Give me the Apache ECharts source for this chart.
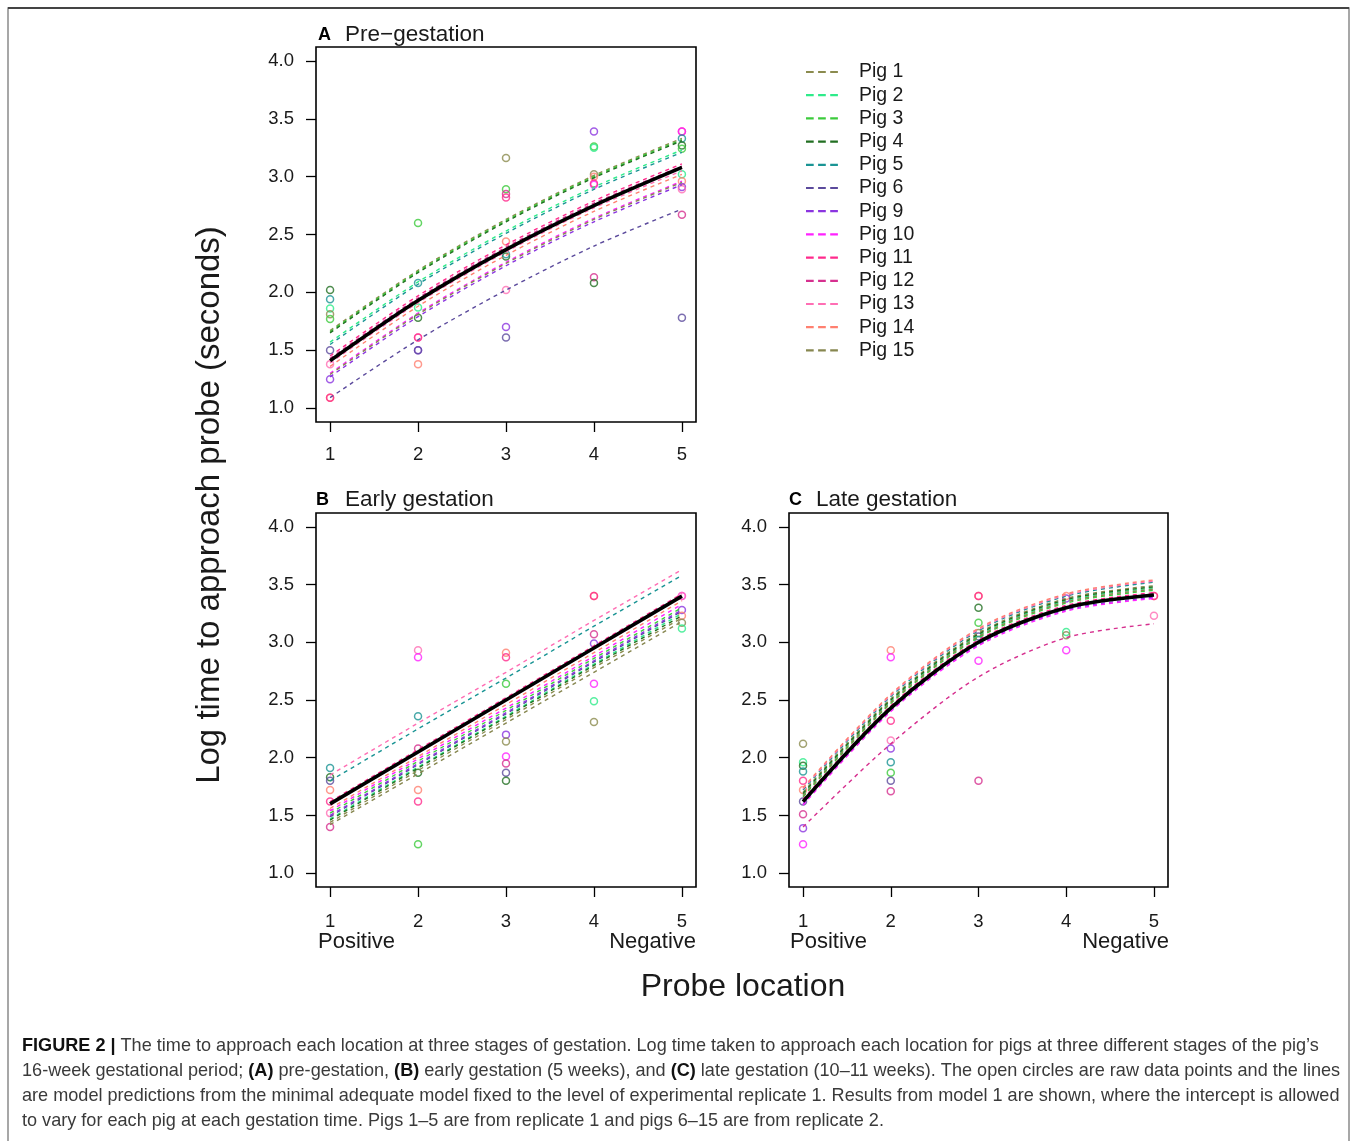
<!DOCTYPE html>
<html>
<head>
<meta charset="utf-8">
<script src="https://cdn.jsdelivr.net/npm/echarts@6/dist/echarts.min.js"></script>
<style>
  html, body { margin: 0; padding: 0; background: #fff; }
  #main { width: 1357px; height: 1141px; }
</style>
</head>
<body>
<div id="main"></div>
<script>
const FONT = '"Liberation Sans", Arial, sans-serif';

const pigNames = ['Pig 1', 'Pig 2', 'Pig 3', 'Pig 4', 'Pig 5', 'Pig 6', 'Pig 9',
    'Pig 10', 'Pig 11', 'Pig 12', 'Pig 13', 'Pig 14', 'Pig 15'];
const pigColors = ['#8b8b4e', '#2eeb8a', '#3ccb3c', '#226f22', '#1a9494', '#5b4a9c', '#8b35e0',
    '#ff22ff', '#ff2a8c', '#d6308f', '#ff6eb4', '#ff8070', '#878750'];

const locations = [1, 2, 3, 4, 5];
const yTicks = [1.0, 1.5, 2.0, 2.5, 3.0, 3.5, 4.0];

// model predictions per pig (same order as pigNames), at locations 1..5
const fitA = [
    [1.67, 2.19, 2.63, 3.01, 3.33],
    [1.57, 2.09, 2.53, 2.91, 3.23],
    [1.66, 2.18, 2.62, 3.00, 3.32],
    [1.65, 2.17, 2.61, 2.99, 3.31],
    [1.55, 2.07, 2.51, 2.89, 3.21],
    [1.09, 1.59, 2.02, 2.40, 2.72],
    [1.27, 1.79, 2.23, 2.61, 2.93],
    [1.30, 1.82, 2.26, 2.64, 2.96],
    [1.45, 1.97, 2.41, 2.79, 3.11],
    [1.43, 1.95, 2.39, 2.77, 3.09],
    [1.39, 1.91, 2.35, 2.73, 3.05],
    [1.36, 1.88, 2.32, 2.70, 3.02],
    [1.29, 1.81, 2.25, 2.63, 2.95]
];
const meanA = [1.41, 1.93, 2.37, 2.75, 3.08];

const fitB = [
    [1.44, 1.89, 2.33, 2.78, 3.21],
    [1.47, 1.92, 2.36, 2.81, 3.25],
    [1.52, 1.97, 2.41, 2.86, 3.30],
    [1.46, 1.91, 2.35, 2.80, 3.23],
    [1.80, 2.25, 2.69, 3.14, 3.58],
    [1.49, 1.94, 2.38, 2.83, 3.27],
    [1.50, 1.95, 2.39, 2.84, 3.28],
    [1.54, 1.99, 2.43, 2.88, 3.33],
    [1.62, 2.07, 2.52, 2.97, 3.42],
    [1.60, 2.05, 2.50, 2.95, 3.40],
    [1.85, 2.30, 2.74, 3.19, 3.63],
    [1.56, 2.01, 2.46, 2.91, 3.36],
    [1.42, 1.86, 2.30, 2.74, 3.18]
];
const meanB = [1.60, 2.05, 2.50, 2.95, 3.40];

const fitC = [
    [1.70, 2.51, 3.08, 3.38, 3.49],
    [1.68, 2.49, 3.06, 3.36, 3.47],
    [1.66, 2.47, 3.04, 3.34, 3.45],
    [1.69, 2.50, 3.07, 3.37, 3.48],
    [1.72, 2.53, 3.10, 3.40, 3.52],
    [1.63, 2.44, 3.01, 3.31, 3.42],
    [1.60, 2.41, 2.98, 3.28, 3.39],
    [1.59, 2.40, 2.97, 3.27, 3.38],
    [1.64, 2.45, 3.02, 3.32, 3.43],
    [1.40, 2.12, 2.70, 3.04, 3.16],
    [1.73, 2.54, 3.11, 3.41, 3.53],
    [1.74, 2.55, 3.12, 3.42, 3.54],
    [1.67, 2.48, 3.05, 3.35, 3.46]
];
const meanC = [1.62, 2.43, 3.00, 3.30, 3.41];

// raw observations: [location, log time, pig]
const rawA = [
    [1, 2.02, 'Pig 4'], [1, 1.94, 'Pig 5'], [1, 1.86, 'Pig 2'], [1, 1.81, 'Pig 1'], [1, 1.77, 'Pig 3'],
    [1, 1.50, 'Pig 6'], [1, 1.38, 'Pig 13'], [1, 1.25, 'Pig 9'], [1, 1.09, 'Pig 14'], [1, 1.09, 'Pig 11'],
    [2, 2.60, 'Pig 3'], [2, 2.08, 'Pig 5'], [2, 1.87, 'Pig 2'], [2, 1.78, 'Pig 4'], [2, 1.61, 'Pig 13'],
    [2, 1.61, 'Pig 11'], [2, 1.50, 'Pig 9'], [2, 1.50, 'Pig 6'], [2, 1.38, 'Pig 14'],
    [3, 3.16, 'Pig 1'], [3, 2.89, 'Pig 3'], [3, 2.85, 'Pig 12'], [3, 2.82, 'Pig 11'], [3, 2.44, 'Pig 14'],
    [3, 2.31, 'Pig 4'], [3, 2.33, 'Pig 5'], [3, 2.02, 'Pig 13'], [3, 1.70, 'Pig 9'], [3, 1.61, 'Pig 6'],
    [4, 3.39, 'Pig 9'], [4, 3.26, 'Pig 3'], [4, 3.25, 'Pig 2'], [4, 3.02, 'Pig 15'], [4, 3.00, 'Pig 14'],
    [4, 2.93, 'Pig 10'], [4, 2.94, 'Pig 11'], [4, 2.13, 'Pig 12'], [4, 2.08, 'Pig 4'],
    [5, 3.39, 'Pig 11'], [5, 3.39, 'Pig 10'], [5, 3.33, 'Pig 5'], [5, 3.27, 'Pig 4'], [5, 3.24, 'Pig 3'],
    [5, 3.02, 'Pig 2'], [5, 2.96, 'Pig 14'], [5, 2.91, 'Pig 9'], [5, 2.89, 'Pig 13'], [5, 2.67, 'Pig 12'],
    [5, 1.78, 'Pig 6']
];
const rawB = [
    [1, 1.91, 'Pig 5'], [1, 1.83, 'Pig 4'], [1, 1.80, 'Pig 6'], [1, 1.72, 'Pig 14'], [1, 1.62, 'Pig 11'],
    [1, 1.52, 'Pig 13'], [1, 1.40, 'Pig 12'],
    [2, 2.93, 'Pig 13'], [2, 2.87, 'Pig 10'], [2, 2.36, 'Pig 5'], [2, 2.08, 'Pig 12'], [2, 1.87, 'Pig 4'],
    [2, 1.72, 'Pig 14'], [2, 1.62, 'Pig 11'], [2, 1.25, 'Pig 3'],
    [3, 2.91, 'Pig 14'], [3, 2.87, 'Pig 11'], [3, 2.64, 'Pig 3'], [3, 2.20, 'Pig 9'], [3, 2.14, 'Pig 1'],
    [3, 2.01, 'Pig 10'], [3, 1.95, 'Pig 12'], [3, 1.87, 'Pig 6'], [3, 1.80, 'Pig 4'],
    [4, 3.40, 'Pig 14'], [4, 3.40, 'Pig 11'], [4, 3.07, 'Pig 12'], [4, 2.99, 'Pig 9'], [4, 2.64, 'Pig 10'],
    [4, 2.49, 'Pig 2'], [4, 2.31, 'Pig 1'],
    [5, 3.40, 'Pig 10'], [5, 3.40, 'Pig 13'], [5, 3.28, 'Pig 9'], [5, 3.23, 'Pig 14'], [5, 3.17, 'Pig 15'],
    [5, 3.12, 'Pig 2']
];
const rawC = [
    [1, 2.12, 'Pig 1'], [1, 1.96, 'Pig 2'], [1, 1.93, 'Pig 4'], [1, 1.88, 'Pig 5'], [1, 1.80, 'Pig 11'],
    [1, 1.72, 'Pig 14'], [1, 1.62, 'Pig 6'], [1, 1.51, 'Pig 12'], [1, 1.39, 'Pig 9'], [1, 1.25, 'Pig 10'],
    [2, 2.93, 'Pig 14'], [2, 2.87, 'Pig 10'], [2, 2.32, 'Pig 11'], [2, 2.15, 'Pig 13'], [2, 2.08, 'Pig 9'],
    [2, 1.96, 'Pig 5'], [2, 1.87, 'Pig 3'], [2, 1.80, 'Pig 6'], [2, 1.71, 'Pig 12'],
    [3, 3.40, 'Pig 14'], [3, 3.40, 'Pig 11'], [3, 3.30, 'Pig 4'], [3, 3.17, 'Pig 3'], [3, 3.08, 'Pig 1'],
    [3, 3.05, 'Pig 6'], [3, 3.02, 'Pig 5'], [3, 2.84, 'Pig 10'], [3, 1.80, 'Pig 12'],
    [4, 3.40, 'Pig 14'], [4, 3.38, 'Pig 9'], [4, 3.09, 'Pig 2'], [4, 3.06, 'Pig 15'], [4, 2.93, 'Pig 10'],
    [5, 3.40, 'Pig 14'], [5, 3.40, 'Pig 11'], [5, 3.23, 'Pig 13']
];

const chart = echarts.init(document.getElementById('main'));

function colorOf(name) {
    return pigColors[pigNames.indexOf(name)];
}

function panelSeries(idx, fits, mean, raw, smooth) {
    const out = [];
    out.push({
        type: 'scatter',
        name: 'raw' + idx,
        xAxisIndex: idx,
        yAxisIndex: idx,
        symbol: 'circle',
        symbolSize: 7,
        z: 2,
        silent: true,
        data: raw.map(p => ({
            value: [p[0], p[1]],
            itemStyle: { color: 'rgba(0,0,0,0)', borderColor: colorOf(p[2]), borderWidth: 1.5 }
        }))
    });
    fits.forEach((vals, i) => {
        out.push({
            type: 'line',
            name: pigNames[i],
            xAxisIndex: idx,
            yAxisIndex: idx,
            data: locations.map((x, j) => [x, vals[j]]),
            smooth: smooth,
            symbol: 'none',
            z: 3,
            itemStyle: { color: pigColors[i] },
            lineStyle: { color: pigColors[i], width: 1.4, type: [4, 4] }
        });
    });
    out.push({
        type: 'line',
        name: 'mean' + idx,
        xAxisIndex: idx,
        yAxisIndex: idx,
        data: locations.map((x, j) => [x, mean[j]]),
        smooth: smooth,
        symbol: 'none',
        z: 4,
        lineStyle: { color: '#000', width: 3.6 }
    });
    return out;
}

function xAxisFor(idx, margin) {
    return {
        type: 'value',
        gridIndex: idx,
        min: 0.84,
        max: 5.16,
        splitLine: { show: false },
        axisLine: { show: false },
        axisTick: { show: true, length: 10, customValues: locations, lineStyle: { color: '#000', width: 1.3 } },
        axisLabel: { customValues: locations, margin: margin, color: '#1a1a1a', fontSize: 18.5, fontFamily: FONT }
    };
}

function yAxisFor(idx) {
    return {
        type: 'value',
        gridIndex: idx,
        min: 0.88,
        max: 4.12,
        splitLine: { show: false },
        axisLine: { show: false },
        axisTick: { show: true, length: 10, customValues: yTicks, lineStyle: { color: '#000', width: 1.3 } },
        axisLabel: {
            customValues: yTicks, margin: 22, color: '#1a1a1a', fontSize: 18.5, fontFamily: FONT,
            formatter: v => Number(v).toFixed(1)
        }
    };
}

const gridStyle = { show: true, borderColor: '#000', borderWidth: 1.6, backgroundColor: 'transparent' };

function txt(text, x, y, size, opts) {
    return {
        type: 'text',
        x: x,
        y: y,
        silent: true,
        style: Object.assign({
            text: text,
            font: size + 'px ' + FONT,
            fill: '#1a1a1a',
            textAlign: 'left',
            textVerticalAlign: 'middle'
        }, opts || {})
    };
}

const capRich = { b: { fontWeight: 'bold', fontSize: 18.1, fontFamily: FONT, fill: '#111' } };
const capOpts = { fill: '#3a3a3a', rich: capRich };

chart.setOption({
    animation: false,
    backgroundColor: '#fff',
    grid: [
        Object.assign({ left: 316, top: 47, width: 380, height: 375 }, gridStyle),
        Object.assign({ left: 316, top: 513, width: 380, height: 374 }, gridStyle),
        Object.assign({ left: 789, top: 513, width: 379, height: 374 }, gridStyle)
    ],
    xAxis: [xAxisFor(0, 23), xAxisFor(1, 25), xAxisFor(2, 25)],
    yAxis: [yAxisFor(0), yAxisFor(1), yAxisFor(2)],
    legend: {
        data: pigNames,
        orient: 'vertical',
        left: 801,
        top: 57,
        icon: 'path://M0,0h7v2h-7z M11,0h7v2h-7z M22,0h7v2h-7z',
        itemWidth: 32,
        itemHeight: 2.2,
        itemGap: 3.2,
        selectedMode: false,
        textStyle: { fontSize: 19.5, fontFamily: FONT, color: '#1a1a1a', padding: [0, 0, 0, 16] }
    },
    graphic: [
        { type: 'rect', silent: true, shape: { x: 8, y: 8, width: 1341, height: 1150 },
          style: { fill: 'none', stroke: '#8a8a8a', lineWidth: 1.5 } },
        { type: 'line', silent: true, shape: { x1: 8, y1: 8, x2: 1349, y2: 8 },
          style: { stroke: '#444', lineWidth: 2 } },
        txt('A', 318, 35, 18, { font: 'bold 18px ' + FONT, fill: '#000' }),
        txt('Pre\u2212gestation', 345, 35, 22.5),
        txt('B', 316, 500, 18, { font: 'bold 18px ' + FONT, fill: '#000' }),
        txt('Early gestation', 345, 500, 22.5),
        txt('C', 789, 500, 18, { font: 'bold 18px ' + FONT, fill: '#000' }),
        txt('Late gestation', 816, 500, 22.5),
        txt('Positive', 318, 942, 22),
        txt('Negative', 696, 942, 22, { textAlign: 'right' }),
        txt('Positive', 790, 942, 22),
        txt('Negative', 1169, 942, 22, { textAlign: 'right' }),
        txt('Probe location', 743, 987, 32, { textAlign: 'center' }),
        Object.assign(txt('Log time to approach probe (seconds)', 210, 505, 33, { textAlign: 'center' }),
            { rotation: Math.PI / 2 }),
        txt('{b|FIGURE 2 |} The time to approach each location at three stages of gestation. Log time taken to approach each location for pigs at three different stages of the pig\u2019s',
            22, 1046, 18.1, capOpts),
        txt('16-week gestational period; {b|(A)} pre-gestation, {b|(B)} early gestation (5 weeks), and {b|(C)} late gestation (10\u201311 weeks). The open circles are raw data points and the lines',
            22, 1071, 18.1, capOpts),
        txt('are model predictions from the minimal adequate model fixed to the level of experimental replicate 1. Results from model 1 are shown, where the intercept is allowed',
            22, 1096, 18.1, capOpts),
        txt('to vary for each pig at each gestation time. Pigs 1\u20135 are from replicate 1 and pigs 6\u201315 are from replicate 2.',
            22, 1121, 18.1, capOpts)
    ],
    series: [].concat(
        panelSeries(0, fitA, meanA, rawA, 0.3),
        panelSeries(1, fitB, meanB, rawB, false),
        panelSeries(2, fitC, meanC, rawC, 0.3)
    )
});
</script>
</body>
</html>
